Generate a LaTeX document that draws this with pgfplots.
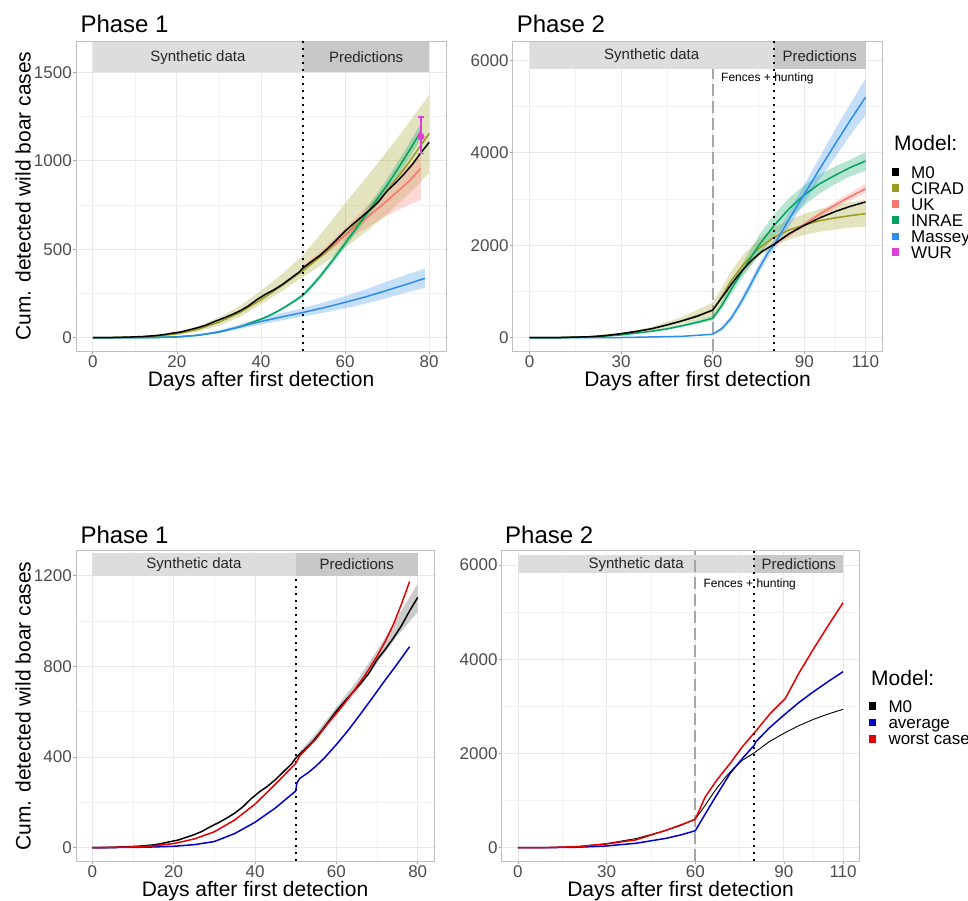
\documentclass[border=0pt]{standalone}
\usepackage{fontspec}
\setmainfont{Liberation Sans}
\usepackage{pgfplots}
\pgfplotsset{compat=1.18}

\definecolor{cirad}{HTML}{999A1E}
\definecolor{uk}{HTML}{F8766D}
\definecolor{inrae}{HTML}{00A35C}
\definecolor{massey}{HTML}{2D8CEB}
\definecolor{wur}{HTML}{DE3FD8}
\definecolor{avg}{HTML}{0000CC}
\definecolor{worst}{HTML}{E60000}
\definecolor{stripL}{HTML}{DDDDDD}
\definecolor{stripD}{HTML}{C8C8C8}

\newcommand{\tk}{\fontsize{17}{17}\selectfont}
\newcommand{\lab}{\fontsize{21}{21}\selectfont}
\newcommand{\ttl}{\fontsize{24}{24}\selectfont}
\newcommand{\stp}{\fontsize{15}{15}\selectfont}
\newcommand{\sml}{\fontsize{12}{12}\selectfont}

\tikzset{
  dotv/.style={black, line width=2pt, dash pattern=on 2pt off 5pt},
  dashv/.style={black!35, line width=1.6pt, dash pattern=on 12pt off 5pt},
}
\pgfplotsset{
  base/.style={
    scale only axis, anchor=south west,
    axis line style={draw=black!25, line width=0.8pt},
    tick pos=left, tick align=outside,
    major tick length=3pt, minor tick length=0pt,
    tick style={draw=black!35, line width=0.8pt},
    grid=both,
    major grid style={draw=black!9, line width=0.9pt},
    minor grid style={draw=black!5, line width=0.5pt},
    ticklabel style={font=\tk, text=black!70, inner sep=1pt},
  },
  ln/.style={line width=1.5pt, line join=round, no markers},
  band/.style={draw=none, fill opacity=0.28},
}

\begin{document}
\begin{tikzpicture}

%================ Panel A: top-left =================
\begin{axis}[base, at={(76pt,549pt)}, width=370pt, height=310pt,
  xmin=-4, xmax=84, ymin=-75, ymax=1678,
  xtick={0,20,40,60,80}, xticklabels={0,20,40,60,80}, minor xtick={10,30,50,70},
  ytick={0,500,1000,1500}, yticklabels={0,500,1000,1500}, minor ytick={250,750,1250}]
\fill[stripL] (axis cs:0,1500) rectangle (axis cs:50,1671);
\fill[stripD] (axis cs:50,1500) rectangle (axis cs:80,1671);
\node[font=\stp, text=black!85] at (axis cs:25,1585) {Synthetic data};
\node[font=\stp, text=black!85] at (axis cs:65,1585) {Predictions};
% bands
\addplot[band, fill=cirad] coordinates {(0,0)(10,5)(20,32)(25,65)(30,115)(35,180)(40,265)(45,360)(50,467)(55,610)(60,760)(65,905)(70,1055)(75,1210)(80,1373)
 (80,930)(75,810)(70,700)(65,600)(60,510)(55,420)(50,345)(45,265)(40,190)(35,118)(30,68)(25,35)(20,15)(10,2)(0,0)} -- cycle;
\addplot[band, fill=uk] coordinates {(50,405)(55,505)(60,620)(65,740)(70,860)(75,970)(78,1030)
 (78,780)(75,750)(70,690)(65,620)(60,550)(55,465)(50,390)} -- cycle;
\addplot[band, fill=inrae] coordinates {(25,16)(30,35)(35,67)(40,110)(44,157)(48,218)(50,252)(54,360)(58,488)(62,622)(66,760)(70,898)(74,1050)(78,1210)
 (78,1120)(74,970)(70,828)(66,700)(62,574)(58,448)(54,330)(50,230)(48,198)(44,143)(40,100)(35,57)(30,29)(25,12)} -- cycle;
\addplot[band, fill=massey] coordinates {(25,18)(30,42)(35,75)(40,112)(45,140)(50,168)(55,200)(60,235)(65,275)(70,318)(75,360)(79,390)
 (79,282)(75,258)(70,225)(65,193)(60,166)(55,142)(50,120)(45,98)(40,75)(35,50)(30,25)(25,10)} -- cycle;
% lines
\addplot[ln, cirad] coordinates {(0,0)(10,3)(15,9)(20,22)(25,48)(30,88)(35,143)(40,215)(45,295)(50,380)(55,475)(60,580)(65,700)(70,830)(75,985)(80,1155)};
\addplot[ln, uk] coordinates {(50,398)(55,485)(60,580)(65,675)(70,775)(75,880)(78,958)};
\addplot[ln, inrae] coordinates {(0,0)(10,0)(15,2)(20,5)(25,14)(30,32)(35,62)(40,105)(42,125)(44,150)(46,178)(48,208)(50,241)(52,290)(54,345)(56,405)(58,468)(60,533)(62,598)(64,663)(66,730)(68,797)(70,863)(72,935)(74,1010)(76,1087)(78,1165)};
\addplot[ln, massey] coordinates {(0,0)(10,0)(15,1)(20,4)(25,14)(30,33)(35,62)(40,92)(45,118)(50,143)(55,170)(60,200)(65,232)(70,268)(75,305)(79,336)};
\addplot[ln, black] coordinates {(0,0)(3,0)(6,2)(9,4)(12,7)(15,12)(17,18)(19,26)(21,33)(23,45)(25,57)(27,72)(29,92)(31,110)(33,130)(35,152)(37,180)(39,215)(41,245)(43,270)(45,300)(47,335)(49,370)(50,395)(52,430)(54,465)(56,508)(58,555)(60,603)(62,645)(64,685)(66,725)(68,770)(70,830)(72,875)(74,925)(76,980)(78,1045)(80,1105)};
\addplot[only marks, mark=*, mark size=3.5pt, color=wur,
  error bars/.cd, y dir=both, y explicit,
  error bar style={line width=1.5pt, wur},
  error mark options={line width=1.5pt, wur, mark size=3pt, rotate=90}]
  coordinates {(78,1137) += (0,110) -= (0,94)};
\draw[dotv] (axis cs:50,-75) -- (axis cs:50,1678);
\end{axis}

%================ Panel B: top-right =================
\begin{axis}[base, at={(512.7pt,549pt)}, width=369.6pt, height=310pt,
  xmin=-5.5, xmax=115.5, ymin=-287, ymax=6415,
  xtick={0,30,60,90,110}, xticklabels={0,30,60,90,110}, minor xtick={15,45,75,100},
  ytick={0,2000,4000,6000}, yticklabels={0,2000,4000,6000}, minor ytick={1000,3000,5000}]
\draw[dashv] (axis cs:60,-287) -- (axis cs:60,5803);
\fill[stripL] (axis cs:0,5803) rectangle (axis cs:80,6393);
\fill[stripD] (axis cs:80,5803) rectangle (axis cs:110,6393);
\node[font=\stp, text=black!85] at (axis cs:40,6098) {Synthetic data};
\node[font=\stp, text=black!85] at (axis cs:95,6098) {Predictions};
% bands
\addplot[band, fill=cirad] coordinates {(30,100)(40,230)(50,450)(60,760)(63,1080)(66,1430)(70,1800)(75,2130)(80,2380)(85,2550)(90,2680)(95,2780)(100,2860)(105,2930)(110,2980)
 (110,2400)(105,2380)(100,2340)(95,2290)(90,2220)(85,2120)(80,1980)(75,1750)(70,1380)(66,1050)(63,740)(60,450)(50,310)(40,160)(30,70)} -- cycle;
\addplot[band, fill=uk] coordinates {(80,2040)(90,2500)(100,2940)(110,3320)(110,3130)(100,2800)(90,2400)(80,1980)} -- cycle;
\addplot[band, fill=inrae] coordinates {(40,160)(50,290)(60,470)(63,780)(66,1150)(70,1630)(75,2200)(80,2660)(85,3020)(90,3300)(95,3530)(100,3700)(105,3850)(110,4010)
 (110,3610)(105,3490)(100,3320)(95,3120)(90,2870)(85,2560)(80,2180)(75,1780)(70,1330)(66,930)(63,620)(60,370)(50,230)(40,120)} -- cycle;
\addplot[band, fill=massey] coordinates {(60,85)(63,240)(66,480)(69,820)(72,1200)(75,1580)(78,1930)(80,2120)(85,2720)(90,3320)(95,3900)(100,4500)(105,5050)(110,5600)
 (110,4810)(105,4380)(100,3900)(95,3420)(90,2920)(85,2400)(80,1880)(78,1730)(75,1380)(72,1000)(69,660)(66,360)(63,160)(60,65)} -- cycle;
% lines
\addplot[ln, cirad] coordinates {(0,0)(10,4)(20,22)(30,85)(40,190)(50,370)(60,590)(63,900)(66,1230)(70,1580)(75,1930)(80,2170)(85,2330)(90,2440)(95,2530)(100,2590)(105,2640)(110,2680)};
\addplot[ln, uk] coordinates {(80,2010)(85,2230)(90,2450)(95,2670)(100,2870)(105,3050)(110,3220)};
\addplot[ln, inrae] coordinates {(0,0)(10,2)(20,15)(30,60)(40,140)(45,190)(50,260)(55,335)(60,420)(63,700)(66,1040)(70,1480)(75,1990)(80,2420)(85,2790)(90,3090)(95,3330)(100,3510)(105,3680)(110,3820)};
\addplot[ln, massey] coordinates {(0,0)(30,4)(50,30)(60,75)(63,200)(66,420)(69,740)(72,1100)(75,1480)(78,1830)(80,2000)(85,2560)(90,3110)(95,3650)(100,4180)(105,4700)(110,5200)};
\addplot[ln, black] coordinates {(0,0)(10,4)(20,22)(25,45)(30,88)(35,135)(40,195)(45,275)(50,365)(55,465)(60,600)(62,780)(64,960)(66,1150)(68,1320)(70,1480)(73,1690)(76,1860)(80,2017)(85,2250)(90,2430)(95,2590)(100,2726)(105,2840)(110,2935)};
\draw[dotv] (axis cs:80,-287) -- (axis cs:80,6415);
\end{axis}

%================ Panel C: bottom-left =================
\begin{axis}[base, at={(76pt,39pt)}, width=358pt, height=310.3pt,
  xmin=-4, xmax=84, ymin=-59, ymax=1311,
  xtick={0,20,40,60,80}, xticklabels={0,20,40,60,80}, minor xtick={10,30,50,70},
  ytick={0,400,800,1200}, yticklabels={0,400,800,1200}, minor ytick={200,600,1000}]
\draw[dotv] (axis cs:50,-59) -- (axis cs:50,1200);
\fill[stripL] (axis cs:0,1200) rectangle (axis cs:50,1300);
\fill[stripD] (axis cs:50,1200) rectangle (axis cs:80,1300);
\node[font=\stp, text=black!85] at (axis cs:25,1250) {Synthetic data};
\node[font=\stp, text=black!85] at (axis cs:65,1250) {Predictions};
\addplot[draw=none, fill=black!45, fill opacity=0.45] coordinates {(50,405)(55,505)(60,620)(65,735)(70,870)(75,1015)(80,1165)
 (80,1040)(75,935)(70,815)(65,690)(60,585)(55,490)(50,392)} -- cycle;
\addplot[ln, black] coordinates {(0,0)(3,0)(6,2)(9,4)(12,7)(15,12)(17,18)(19,26)(21,33)(23,45)(25,57)(27,72)(29,92)(31,110)(33,130)(35,152)(37,180)(39,215)(41,245)(43,270)(45,300)(47,335)(49,370)(50,395)(52,430)(54,465)(56,508)(58,555)(60,603)(62,645)(64,685)(66,725)(68,770)(70,830)(72,875)(74,925)(76,980)(78,1045)(80,1105)};
\addplot[ln, avg] coordinates {(0,0)(10,1)(15,3)(20,6)(25,13)(30,27)(35,62)(40,112)(45,175)(50,250)(50.3,285)(51,306)(53,330)(55,360)(57,395)(60,455)(63,520)(66,592)(69,665)(72,740)(75,812)(78,887)};
\addplot[ln, worst] coordinates {(0,0)(10,3)(15,8)(20,18)(25,38)(30,70)(35,122)(40,192)(45,280)(50,372)(51,405)(55,480)(58,550)(61,615)(64,685)(67,760)(70,845)(72,910)(74,985)(76,1075)(78,1175)};
\end{axis}

%================ Panel D: bottom-right =================
\begin{axis}[base, at={(501.7pt,39pt)}, width=357.6pt, height=310.3pt,
  xmin=-5.5, xmax=115.5, ymin=-282, ymax=6306,
  xtick={0,30,60,90,110}, xticklabels={0,30,60,90,110}, minor xtick={15,45,75,100},
  ytick={0,2000,4000,6000}, yticklabels={0,2000,4000,6000}, minor ytick={1000,3000,5000}]
\fill[stripL] (axis cs:0,5826) rectangle (axis cs:80,6215);
\fill[stripD] (axis cs:80,5826) rectangle (axis cs:110,6215);
\node[font=\stp, text=black!85] at (axis cs:40,6020) {Synthetic data};
\node[font=\stp, text=black!85] at (axis cs:95,6020) {Predictions};
\draw[dashv] (axis cs:60,-282) -- (axis cs:60,6306);
\addplot[line width=0.9pt, black, no markers] coordinates {(0,0)(10,4)(20,22)(30,88)(40,195)(50,365)(55,470)(60,610)(62,780)(64,960)(66,1150)(68,1320)(70,1480)(73,1690)(76,1860)(80,2017)(85,2250)(90,2430)(95,2590)(100,2726)(105,2840)(110,2938)};
\addplot[ln, avg] coordinates {(0,0)(10,2)(20,10)(30,38)(40,95)(50,198)(55,270)(60,361)(66.2,1013)(71.8,1580)(76,1900)(80,2180)(80.5,2250)(85,2540)(90,2817)(95,3080)(100,3312)(105,3530)(110,3737)};
\addplot[ln, worst] coordinates {(0,0)(10,4)(20,22)(30,80)(40,168)(50,370)(55,482)(60,603)(63.4,1083)(67.3,1437)(71.8,1792)(76,2150)(80.3,2463)(85.4,2853)(90.5,3172)(95,3700)(100,4220)(105,4720)(110,5202)};
\draw[dotv] (axis cs:80,-282) -- (axis cs:80,6306);
\end{axis}

%================ Text outside axes =================
\node[font=\ttl, anchor=base west] at (77pt,867pt) {Phase 1};
\node[font=\ttl, anchor=base west] at (513.3pt,867pt) {Phase 2};
\node[font=\ttl, anchor=base west] at (77pt,356.7pt) {Phase 1};
\node[font=\ttl, anchor=base west] at (501.7pt,356.7pt) {Phase 2};

\node[font=\lab, anchor=base] at (261pt,513.3pt) {Days after first detection};
\node[font=\lab, anchor=base] at (697.5pt,513.3pt) {Days after first detection};
\node[font=\lab, anchor=base] at (255pt,3.3pt) {Days after first detection};
\node[font=\lab, anchor=base] at (680.5pt,3.3pt) {Days after first detection};

\node[font=\lab, rotate=90, anchor=base] at (30.5pt,704pt) {Cum. detected wild boar cases};
\node[font=\lab, rotate=90, anchor=base] at (30.5pt,194pt) {Cum. detected wild boar cases};

\node[font=\sml, anchor=base west] at (717.7pt,818.3pt) {Fences + hunting};
\node[font=\sml, anchor=base west] at (700pt,312.7pt) {Fences + hunting};

% legend top
\node[font=\lab, anchor=base west] at (890.7pt,749.3pt) {Model:};
\foreach \c/\t/\yy in {black/M0/172, cirad/CIRAD/188, uk/UK/204, inrae/INRAE/220, massey/Massey/236.5, wur/WUR/252}{
  \fill[\c] (891.7pt,{(900-\yy-3.8)*1pt}) rectangle ++(7.6pt,7.6pt);
  \node[font=\tk, anchor=base west, inner sep=0pt] at (911pt,{(900-\yy-6.1)*1pt}) {\t};
}
% legend bottom
\node[font=\lab, anchor=base west] at (867.7pt,215pt) {Model:};
\foreach \c/\t/\yy in {black/M0/706, avg/average/722.3, worst/worst case/738.7}{
  \fill[\c] (868.5pt,{(900-\yy-3.8)*1pt}) rectangle ++(7.6pt,7.6pt);
  \node[font=\tk, anchor=base west, inner sep=0pt] at (888.3pt,{(900-\yy-6.1)*1pt}) {\t};
}

\pgfresetboundingbox
\path[use as bounding box] (0pt,0pt) rectangle (968pt,900pt);
\end{tikzpicture}
\end{document}
